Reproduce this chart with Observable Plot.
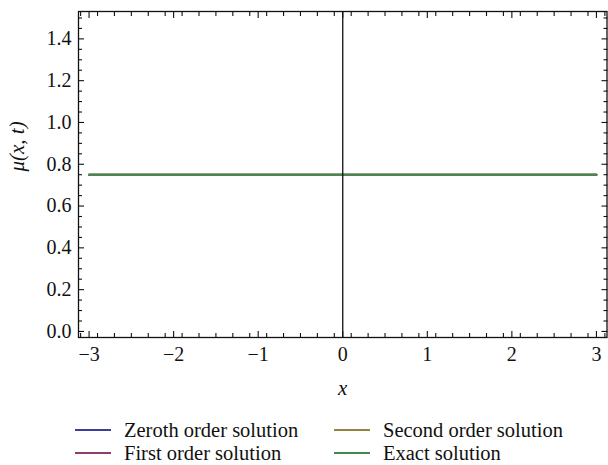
<!DOCTYPE html>
<html>
<head>
<meta charset="utf-8">
<script src="https://cdn.jsdelivr.net/npm/d3@7"></script>
<script src="https://cdn.jsdelivr.net/npm/@observablehq/plot@0.6"></script>
<style>
  html, body { margin: 0; padding: 0; background: #fff; overflow: hidden; }
  #chart svg { display: block; }
  #chart svg text { font-family: 'Liberation Serif', 'Times New Roman', 'DejaVu Serif', serif; }
  #chart svg g[aria-label$="tick label"] { font-size: 20px; }
  .legend { font-family: 'Liberation Serif', 'Times New Roman', 'DejaVu Serif', serif; font-size: 20.5px; color: #111;
            display: grid; grid-template-columns: 259px 259px; padding-left: 75px; margin-top: 22px; row-gap: 7px; }
  .legend .item { display: flex; align-items: center; height: 16px; line-height: 16px; }
  .legend .sw { display: inline-block; width: 36px; height: 1.6px; margin-right: 13px; }
</style>
</head>
<body>
<div id="chart"></div>
<script>
// ---- data ----
const seriesNames = ["Zeroth order solution", "First order solution", "Second order solution", "Exact solution"];
const seriesColors = ["#3d3d9c", "#8e3d6e", "#968043", "#3f8a4c"];
const xValues = [-3, 3];
const zerothValues = [0.75, 0.75];
const firstValues = [0.75, 0.75];
const secondValues = [0.75, 0.75];
const exactValues = [0.75, 0.75];
const xTicks = [-3, -2, -1, 0, 1, 2, 3];
const yTicks = [0, 0.2, 0.4, 0.6, 0.8, 1.0, 1.2, 1.4];
const xMinorTicks = d3.range(-31, 32, 2).map(d => d / 10).filter(d => !xTicks.includes(Math.round(d * 10) / 10));
const yMinorTicks = d3.range(0, 31).map(d => d * 0.05).filter(d => Math.round(d * 100) % 20 !== 0);

const allSeries = [zerothValues, firstValues, secondValues, exactValues];
const rows = allSeries.flatMap((vals, i) => xValues.map((x, j) => ({x, y: vals[j], s: seriesNames[i]})));

const tickStroke = {stroke: "#111", strokeWidth: 1.1};

const plot = Plot.plot({
  width: 608,
  height: 400,
  marginTop: 11,
  marginBottom: 63,
  marginLeft: 78,
  marginRight: 1.5,
  style: {fontSize: "20px", color: "#111"},
  x: {domain: [-3.125, 3.125]},
  y: {domain: [-0.029, 1.531]},
  marks: [
    // lines (exact drawn last, on top)
    ...seriesNames.map((name, i) =>
      Plot.line(rows.filter(r => r.s === name), {x: "x", y: "y", stroke: seriesColors[i], strokeWidth: 2})),
    Plot.ruleX([0], {stroke: "#111", strokeWidth: 1.3}),
    // tick labels
    Plot.axisY({ticks: yTicks, tickSize: 0, tickPadding: 7, tickFormat: d3.format(".1f"), label: null, fontSize: 20}),
    Plot.axisX({ticks: xTicks, tickSize: 0, tickPadding: 9, tickFormat: d3.format("d"), label: null, fontSize: 20}),
    // inward ticks left/right
    Plot.axisY({anchor: "left", ticks: yTicks, tickSize: 6, dx: 6, text: null, label: null, ...tickStroke}),
    Plot.axisY({anchor: "left", ticks: yMinorTicks, tickSize: 4, dx: 4, text: null, label: null, ...tickStroke}),
    Plot.axisY({anchor: "right", ticks: yTicks, tickSize: 6, dx: -6, text: null, label: null, ...tickStroke}),
    Plot.axisY({anchor: "right", ticks: yMinorTicks, tickSize: 4, dx: -4, text: null, label: null, ...tickStroke}),
    // inward ticks bottom/top
    Plot.axisX({anchor: "bottom", ticks: xTicks, tickSize: 6, dy: -6, text: null, label: null, ...tickStroke}),
    Plot.axisX({anchor: "bottom", ticks: xMinorTicks, tickSize: 4, dy: -4, text: null, label: null, ...tickStroke}),
    Plot.axisX({anchor: "top", ticks: xTicks, tickSize: 6, dy: 6, text: null, label: null, ...tickStroke}),
    Plot.axisX({anchor: "top", ticks: xMinorTicks, tickSize: 4, dy: 4, text: null, label: null, ...tickStroke}),
    Plot.frame({stroke: "#111", strokeWidth: 1.3}),
    // axis titles
    Plot.text(["x"], {frameAnchor: "bottom", dy: 57, fontStyle: "italic", fontSize: 21, fill: "#111"}),
    Plot.text(["μ(x, t)"], {frameAnchor: "left", dx: -61, dy: -3, rotate: -90, fontStyle: "italic", fontSize: 21, fill: "#111"})
  ]
});
document.getElementById("chart").appendChild(plot);

// legend (HTML, below the SVG), order: column-major like reference
const legend = document.createElement("div");
legend.className = "legend";
const order = [0, 2, 1, 3];
for (const i of order) {
  const item = document.createElement("div");
  item.className = "item";
  const sw = document.createElement("span");
  sw.className = "sw";
  sw.style.background = seriesColors[i];
  const t = document.createElement("span");
  t.textContent = seriesNames[i];
  item.appendChild(sw);
  item.appendChild(t);
  legend.appendChild(item);
}
document.getElementById("chart").appendChild(legend);
</script>
</body>
</html>
